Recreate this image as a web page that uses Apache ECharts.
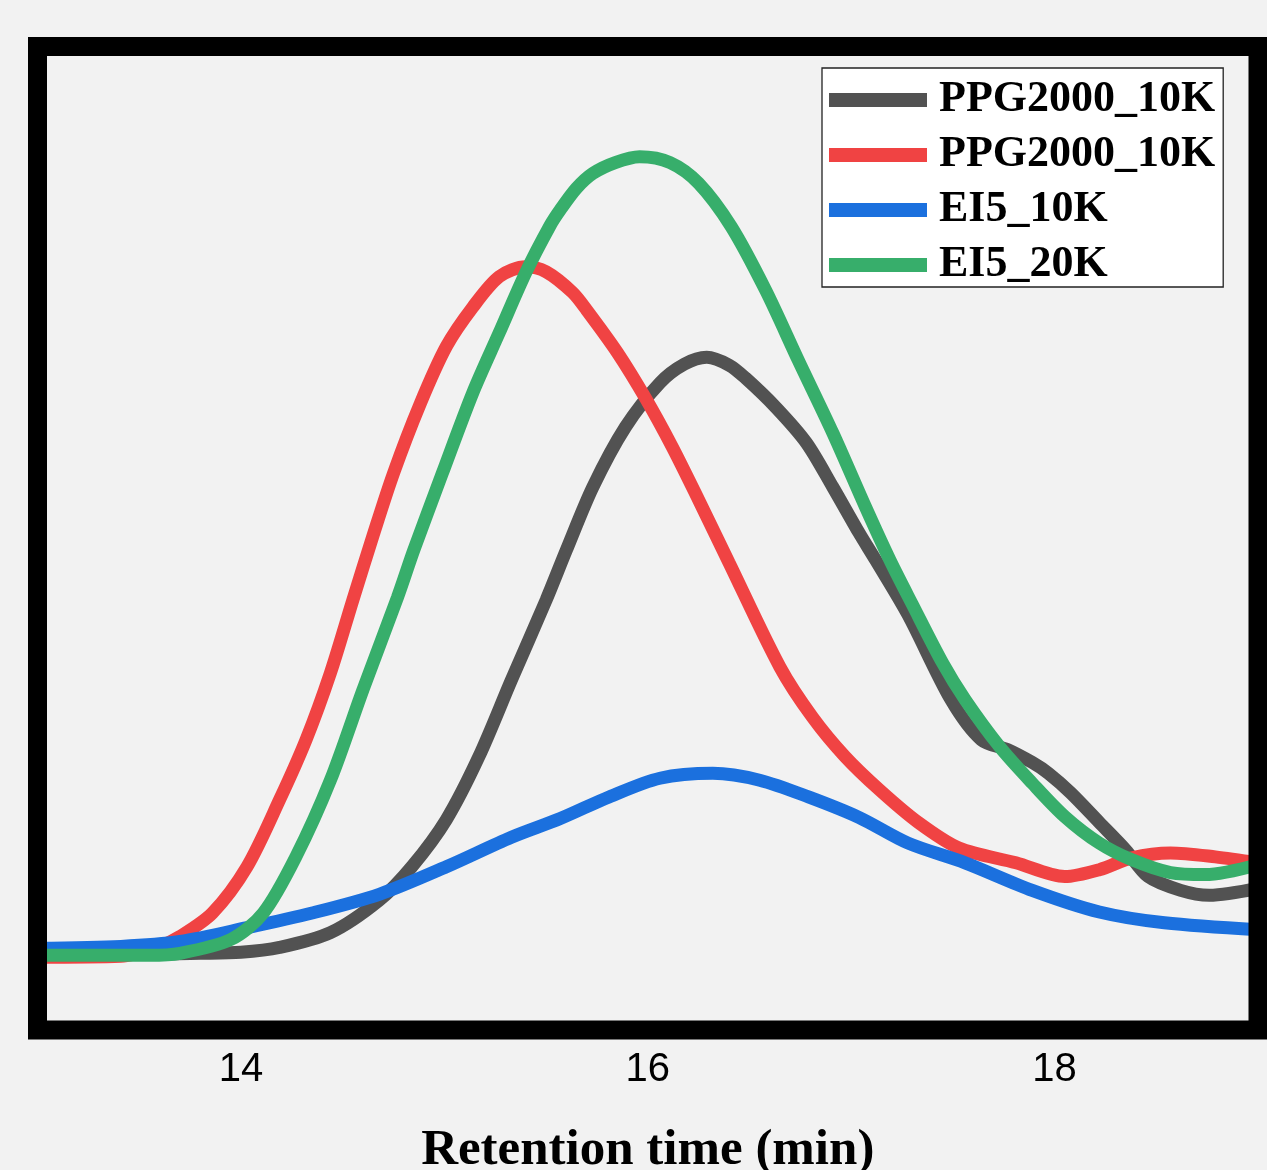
<!DOCTYPE html>
<html>
<head>
<meta charset="utf-8">
<script src="https://cdn.jsdelivr.net/npm/echarts@6/dist/echarts.min.js"></script>
<style>
html, body { margin: 0; padding: 0; background: #f2f2f2; }
#chart { width: 1267px; height: 1170px; }
</style>
</head>
<body>
<div id="chart"></div>
<script>
// retention time (min) and detector signal (a.u.)
const blackT = [13.0, 13.41, 13.80, 14.00, 14.19, 14.44, 14.68, 14.84, 15.01, 15.17,
  15.33, 15.50, 15.60, 15.73, 15.89, 16.06, 16.18, 16.29, 16.40, 16.48,
  16.63, 16.78, 16.91, 17.04, 17.12, 17.28, 17.49, 17.64, 17.77, 17.89,
  17.97, 18.08, 18.22, 18.35, 18.46, 18.62, 18.76, 19.0];
const blackV = [7.7, 7.7, 7.8, 7.9, 8.4, 9.9, 13.2, 16.6, 21.4, 27.8,
  35.6, 43.7, 48.8, 55.2, 61.3, 65.8, 67.7, 68.4, 67.6, 66.3,
  63.3, 59.7, 55.2, 50.5, 47.8, 42.2, 33.6, 29.5, 28.5, 27.2,
  26.1, 24.1, 21.1, 18.3, 15.6, 14.2, 13.7, 14.4];

const redT = [13.0, 13.41, 13.60, 13.70, 13.86, 14.03, 14.19, 14.32, 14.44, 14.55,
  14.65, 14.75, 14.88, 15.01, 15.14, 15.27, 15.40, 15.50, 15.63, 15.70,
  15.85, 15.99, 16.12, 16.25, 16.40, 16.65, 16.81, 16.97, 17.14,
  17.33, 17.53, 17.81, 18.05, 18.22, 18.38, 18.57, 18.79, 19.0];
const redV = [7.4, 7.5, 8.5, 9.5, 11.9, 16.6, 23.4, 29.5, 36.3, 43.7,
  50.3, 56.6, 63.6, 69.5, 73.5, 76.6, 77.6, 77.1, 75.0, 73.2,
  68.9, 64.2, 59.3, 53.9, 47.5, 36.9, 31.8, 27.8, 24.4,
  21.1, 18.5, 17.0, 15.6, 16.3, 17.5, 18.0, 17.6, 17.0];

const blueT = [13.0, 13.41, 13.70, 14.03, 14.35, 14.68, 15.01, 15.33, 15.57, 15.81,
  16.06, 16.32, 16.55, 16.79, 17.04, 17.28, 17.56, 17.89, 18.22, 18.54, 19.0];
const blueV = [8.3, 8.5, 9.0, 10.4, 11.9, 13.8, 16.6, 19.6, 21.5, 23.7,
  25.6, 26.1, 25.4, 23.7, 21.6, 19.0, 17.0, 14.2, 12.0, 10.9, 10.2];

const greenT = [13.0, 13.55, 13.70, 13.95, 14.11, 14.27, 14.44, 14.60, 14.77, 14.85,
  14.99, 15.14, 15.27, 15.40, 15.52, 15.57, 15.65, 15.73, 15.84, 15.96,
  16.11, 16.25, 16.41, 16.58, 16.74, 16.91, 17.07, 17.19, 17.30, 17.45,
  17.56, 17.73, 17.89, 18.05, 18.22, 18.38, 18.57, 18.74, 19.0];
const greenV = [7.6, 7.6, 7.8, 9.2, 11.9, 17.6, 25.4, 34.6, 44.0, 48.8,
  56.6, 64.8, 70.9, 77.0, 81.8, 83.4, 85.6, 87.1, 88.2, 88.8,
  88.2, 86.1, 81.7, 75.2, 68.1, 60.7, 53.2, 47.8, 43.3, 37.3,
  33.6, 28.8, 25.1, 21.7, 19.0, 17.3, 16.0, 15.8, 16.8];

const keys = ['ppgA', 'ppgB', 'ei10', 'ei20'];
const labels = ['PPG2000_10K', 'PPG2000_10K', 'EI5_10K', 'EI5_20K'];
const colors = ['#525252', '#f04343', '#1b70de', '#37ae6b'];
const times = [blackT, redT, blueT, greenT];
const values = [blackV, redV, blueV, greenV];
const tickLabels = [14, 16, 18];

const G = { left: 37.5, top: 46.5, width: 1220.5, height: 983.5 };

const chart = echarts.init(document.getElementById('chart'));

const series = keys.map((k, i) => ({
  name: k,
  type: 'line',
  smooth: 0.3,
  showSymbol: false,
  lineStyle: { color: colors[i], width: 13 },
  itemStyle: { color: colors[i] },
  data: times[i].map((t, j) => [t, values[i][j]])
}));

chart.setOption({
  backgroundColor: '#f2f2f2',
  animation: false,
  grid: {
    left: G.left, top: G.top, width: G.width, height: G.height,
    outerBoundsMode: 'none', containLabel: false
  },
  xAxis: {
    type: 'value',
    min: 13,
    max: 19,
    interval: 1,
    axisLine: { show: false },
    axisTick: { show: false },
    splitLine: { show: false },
    axisLabel: {
      margin: 20,
      fontSize: 40,
      fontFamily: 'Liberation Sans, Arial, sans-serif',
      color: '#000',
      formatter: v => tickLabels.includes(v) ? String(v) : ''
    },
    name: 'Retention time (min)',
    nameLocation: 'middle',
    nameGap: 95,
    nameTextStyle: {
      fontSize: 51,
      fontWeight: 'bold',
      fontFamily: 'Liberation Serif, Times New Roman, serif',
      color: '#000'
    }
  },
  yAxis: {
    type: 'value',
    min: 0,
    max: 100,
    show: false
  },
  legend: {
    orient: 'vertical',
    left: 822,
    top: 68,
    backgroundColor: '#fff',
    borderColor: '#222',
    borderWidth: 1.3,
    padding: [10, 8, 0, 7],
    itemGap: 11,
    itemWidth: 98,
    itemHeight: 14,
    icon: 'rect',
    data: keys,
    formatter: n => labels[keys.indexOf(n)],
    textStyle: {
      fontFamily: 'Liberation Serif, Times New Roman, serif',
      fontWeight: 'bold',
      fontSize: 44,
      lineHeight: 44,
      color: '#000',
      padding: [0, 0, 0, 7]
    }
  },
  graphic: [{
    type: 'rect',
    z: 100,
    shape: { x: G.left, y: G.top, width: G.width, height: G.height },
    style: { fill: 'none', stroke: '#000', lineWidth: 19 }
  }],
  series: series
});
</script>
</body>
</html>
